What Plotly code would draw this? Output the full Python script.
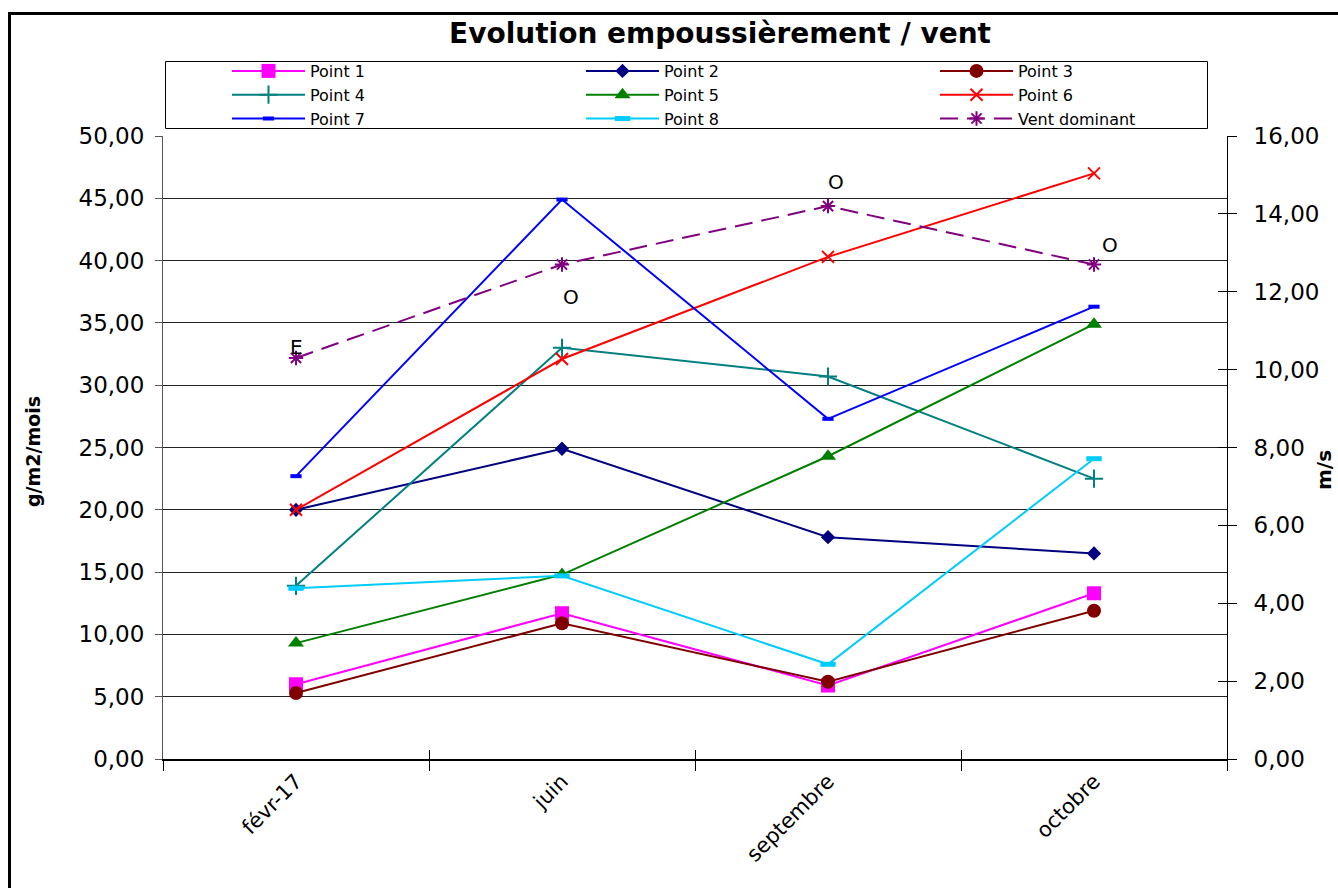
import plotly.graph_objects as go

# ---------------- data ----------------
categories = ["févr-17", "juin", "septembre", "octobre"]
point1 = [6.0, 11.7, 5.9, 13.3]
point2 = [20.0, 24.9, 17.8, 16.5]
point3 = [5.3, 10.9, 6.2, 11.9]
point4 = [13.9, 33.0, 30.7, 22.5]
point5 = [9.3, 14.8, 24.3, 34.9]
point6 = [20.0, 32.1, 40.3, 47.0]
point7 = [22.7, 44.9, 27.3, 36.3]
point8 = [13.7, 14.7, 7.6, 24.1]
vent = [10.3, 12.7, 14.2, 12.7]
vent_labels = ["E", "O", "O", "O"]
left_ticks = [0, 5, 10, 15, 20, 25, 30, 35, 40, 45, 50]
right_ticks = [0, 2, 4, 6, 8, 10, 12, 14, 16]

series_names = ["Point 1", "Point 2", "Point 3", "Point 4", "Point 5",
                "Point 6", "Point 7", "Point 8"]
series_values = [point1, point2, point3, point4, point5, point6, point7, point8]

# ---------------- styles ----------------
FONT = "DejaVu Sans"
styles = [
    dict(color="#FF00FF", symbol="square", size=14),
    dict(color="#000080", symbol="diamond", size=11),
    dict(color="#800000", symbol="circle", size=14),
    dict(color="#008080", symbol="cross-thin-open", size=13, lw=2),
    dict(color="#008000", symbol="triangle-up", size=14),
    dict(color="#FF0000", symbol="x-thin-open", size=12, lw=2),
    dict(color="#0000FF", symbol="line-ew-open", size=8, lw=4),
    dict(color="#00CCFF", symbol="line-ew-open", size=11, lw=5),
]

W, H = 1338, 888
ML, MR, MT, MB = 163, 111, 136, 129
PW, PH = W - ML - MR, H - MT - MB


def px_x(px):
    return (px - ML) / PW


def px_y(py):
    return (H - MB - py) / PH


fig = go.Figure()

for name, vals, st in zip(series_names, series_values, styles):
    marker = dict(color=st["color"], symbol=st["symbol"], size=st["size"])
    if "lw" in st:
        marker["line"] = dict(color=st["color"], width=st["lw"])
    else:
        marker["line"] = dict(width=0)
    fig.add_trace(go.Scatter(
        x=categories, y=vals, name=name, mode="lines+markers",
        line=dict(color=st["color"], width=2), marker=marker,
        xaxis="x", yaxis="y", cliponaxis=False))

fig.add_trace(go.Scatter(
    x=categories, y=vent, name="Vent dominant", mode="lines+markers",
    line=dict(color="#800080", width=2, dash="18px,9px"),
    marker=dict(color="#800080", symbol="asterisk-open", size=12,
                line=dict(color="#800080", width=2)),
    xaxis="x", yaxis="y2", cliponaxis=False))

# empty helper trace so the overlay axes (inner half of cross ticks) are drawn
fig.add_trace(go.Scatter(x=[], y=[], xaxis="x2", yaxis="y3",
                         showlegend=False, hoverinfo="skip"))

# vent data labels
label_offsets = [(0, 11), (9, -33), (8, 24), (16, 19)]
for cat, v, lab, (dx, dy) in zip(categories, vent, vent_labels, label_offsets):
    fig.add_annotation(x=cat, y=v, xref="x", yref="y2", text=lab,
                       showarrow=False, xshift=dx, yshift=dy,
                       font=dict(family=FONT, size=20, color="black"))

# axis titles as annotations
fig.add_annotation(x=px_x(33), y=px_y(452), xref="paper", yref="paper",
                   xanchor="center", yanchor="middle",
                   text="<b>g/m2/mois</b>", textangle=-90, showarrow=False,
                   font=dict(family=FONT, size=19, color="black"))
fig.add_annotation(x=px_x(1324), y=px_y(470), xref="paper", yref="paper",
                   xanchor="center", yanchor="middle",
                   text="<b>m/s</b>", textangle=-90, showarrow=False,
                   font=dict(family=FONT, size=20, color="black"))

# outer chart border
fig.add_shape(type="rect", xref="paper", yref="paper",
              x0=px_x(9.5), x1=px_x(1350), y0=px_y(900), y1=px_y(13.5),
              line=dict(color="black", width=3), layer="above")
# legend frame
fig.add_shape(type="rect", xref="paper", yref="paper",
              x0=px_x(165.5), x1=px_x(1207.5), y0=px_y(128.5), y1=px_y(61.5),
              line=dict(color="black", width=1), layer="below",
              fillcolor="white")

fig.update_layout(
    width=W, height=H,
    margin=dict(l=ML, r=MR, t=MT, b=MB, pad=0),
    paper_bgcolor="white", plot_bgcolor="white",
    separators=", ",
    font=dict(family=FONT, color="black"),
    title=dict(text="<b>Evolution empoussièrement / vent</b>",
               x=px_x(720), xref="paper", xanchor="center",
               y=1 - 33 / H, yref="container", yanchor="middle",
               font=dict(family=FONT, size=28, color="black")),
    showlegend=True,
    legend=dict(orientation="h", x=px_x(227), y=px_y(54),
                xanchor="left", yanchor="top",
                entrywidth=266, entrywidthmode="pixels",
                itemwidth=73,
                borderwidth=0, bgcolor="rgba(0,0,0,0)",
                font=dict(family=FONT, size=16, color="black"),
                traceorder="normal"),
    xaxis=dict(type="category", categoryorder="array", categoryarray=categories,
               range=[-0.5, len(categories) - 0.5],
               showline=True, linecolor="black", linewidth=1.5,
               ticks="outside", ticklen=10, tickcolor="black", tickwidth=1,
               tickson="boundaries", tickangle=-45,
               tickfont=dict(family=FONT, size=21, color="black"),
               showgrid=False, zeroline=False, fixedrange=True),
    xaxis2=dict(overlaying="x", anchor="y", side="bottom",
                range=[-0.5, len(categories) - 0.5],
                tickvals=[i - 0.5 for i in range(len(categories) + 1)],
                ticks="inside", ticklen=9, tickcolor="black", tickwidth=1,
                showticklabels=False, showgrid=False, zeroline=False, showline=False),
    yaxis=dict(range=[0, 50], tickvals=left_ticks, tickformat=".2f",
               showline=True, linecolor="#555", linewidth=1,
               ticks="outside", ticklen=7, tickcolor="#555",
               ticklabelstandoff=6,
               showgrid=True, gridcolor="#222", gridwidth=1,
               zeroline=False,
               tickfont=dict(family=FONT, size=23, color="black")),
    yaxis2=dict(range=[0, 16], tickvals=right_ticks, tickformat=".2f",
                overlaying="y", side="right", anchor="x",
                showline=True, linecolor="black", linewidth=1,
                ticks="outside", ticklen=9, tickcolor="black",
                ticklabelstandoff=12,
                showgrid=False, zeroline=False,
                tickfont=dict(family=FONT, size=23, color="black")),
    yaxis3=dict(range=[0, 16], tickvals=right_ticks,
                overlaying="y", side="right", anchor="x2",
                ticks="inside", ticklen=9, tickcolor="black",
                showticklabels=False, showgrid=False, zeroline=False, showline=False),
)

fig.write_html("out.html")
